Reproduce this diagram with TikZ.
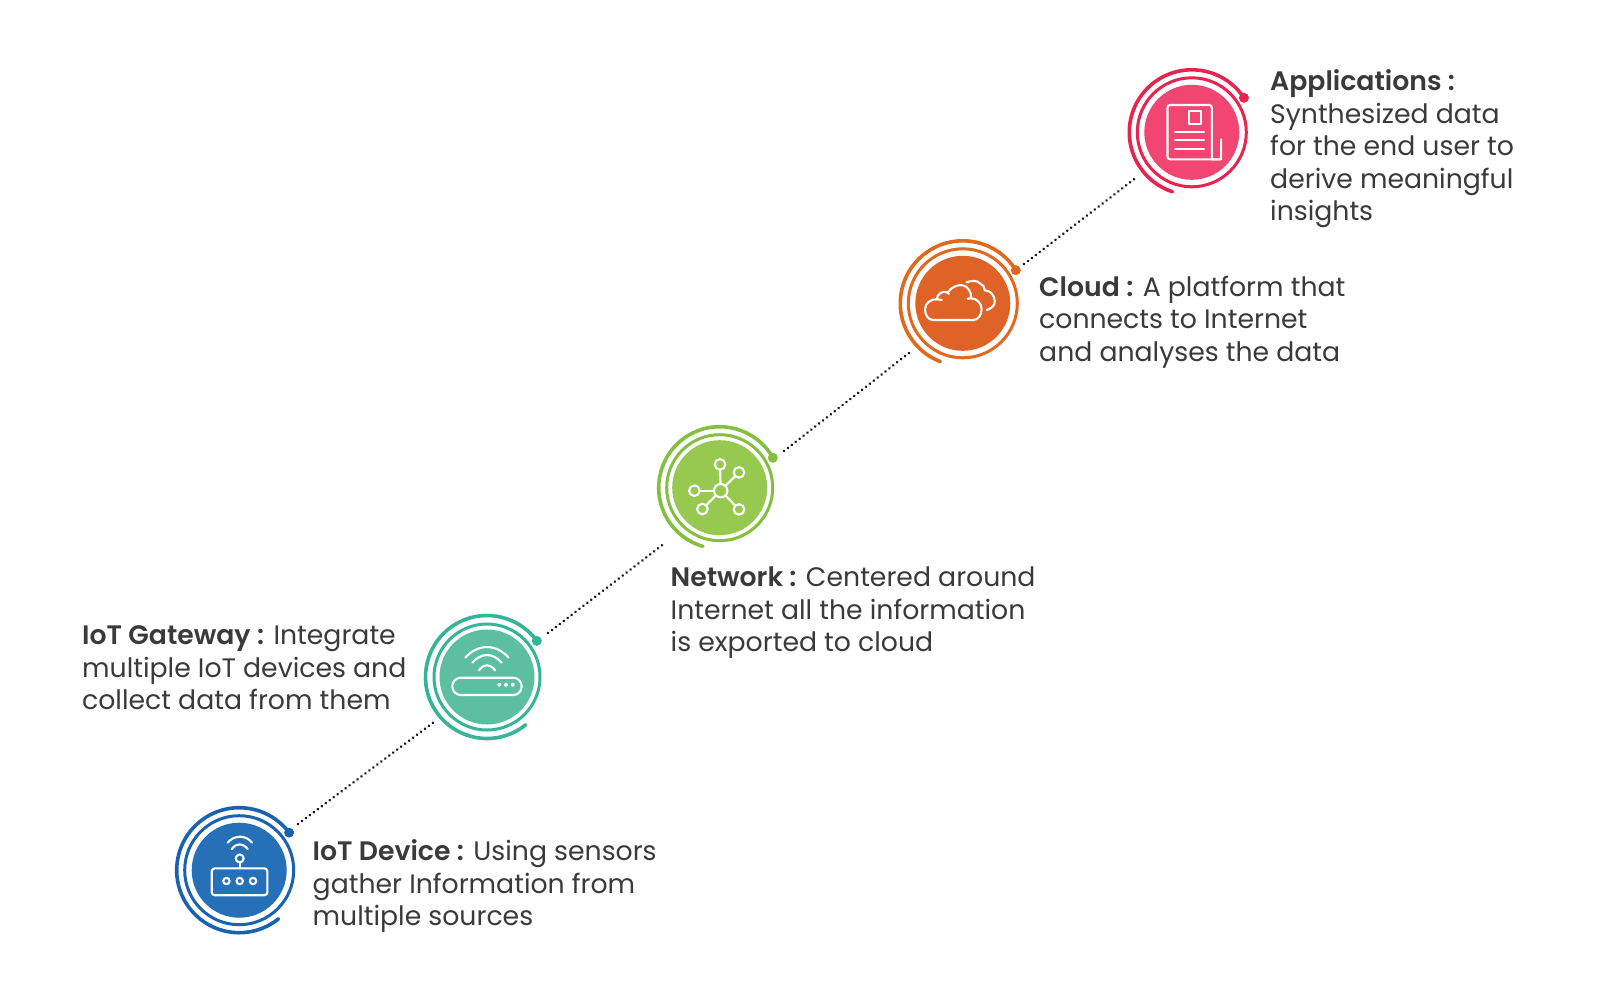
\documentclass[tikz,border=0pt]{standalone}
\usepackage{fontspec}
\setmainfont{Poppins}[BoldFont={Poppins SemiBold}]
\definecolor{txt}{HTML}{3A3A3A}
\definecolor{appD}{HTML}{F24672}\definecolor{appR}{HTML}{E8234F}
\definecolor{cloD}{HTML}{DF6326}\definecolor{cloR}{HTML}{E0681F}
\definecolor{netD}{HTML}{97C950}\definecolor{netR}{HTML}{85BF40}
\definecolor{gwD}{HTML}{5CC0A0}\definecolor{gwR}{HTML}{35B598}
\definecolor{devD}{HTML}{2670B8}\definecolor{devR}{HTML}{1A62B0}
\tikzset{
  lbl/.style={anchor=north west,inner sep=0pt,align=left,text=txt,font=\fontsize{26.7}{32.5}\selectfont},
  dotline/.style={line width=2.9pt,black!90,line cap=round,dash pattern=on 0.01pt off 4.95pt},
  ico/.style={white,line width=2.1pt,line cap=round,line join=round,fill=none},
}
\newcommand{\badge}[9]{% name,x,y,disc,ring,startangle,endangle,ring r,outer r
  \node[circle,fill=#4,minimum size=95pt,inner sep=0pt] (#1) at (#2,#3) {};
  \draw[#5,line width=3pt] (#1.center) circle[radius=#8];
  \draw[#5,line width=3.6pt,line cap=round] ($(#1.center)+(-#6:#9)$) arc[start angle=-#6,end angle=-#7,radius=#9];
  \fill[#5] ($(#1.center)+(-#6:#9)$) circle[radius=5];
}
\usetikzlibrary{calc}
\begin{document}
\begin{tikzpicture}[x=1pt,y=-1pt]
\useasboundingbox[fill=white] (0,0) rectangle (1600,991);
\badge{dev}{239.2}{870.2}{devD}{devR}{37}{309}{54.5}{62.5}
\badge{gw}{487}{677}{gwD}{gwR}{36}{309}{53}{61.5}
\badge{net}{719.7}{487.7}{netD}{netR}{29.4}{254}{53}{61}
\badge{clo}{962.8}{303.3}{cloD}{cloR}{32}{249}{54.5}{62.5}
\badge{app}{1191.8}{132.3}{appD}{appR}{33.5}{252}{54.5}{62.5}
% connectors
\coordinate (a1) at (298,824);\coordinate (a2) at (434,722);
\coordinate (b1) at (548,633);\coordinate (b2) at (665,543);
\coordinate (c1) at (784,451);\coordinate (c2) at (909,353);
\coordinate (d1) at (1024,264);\coordinate (d2) at (1137,177);
\draw[dotline] (a1) -- (a2);
\draw[dotline] (b1) -- (b2);
\draw[dotline] (c1) -- (c2);
\draw[dotline] (d1) -- (d2);
% icon: device
\begin{scope}[shift={(dev.center)},ico]
  \draw[rounded corners=3pt] (-27.5,-1.8) rectangle (28.2,25);
  \foreach \x in {-12.8,0.5,13.8} \draw (\x,10.8) circle[radius=3.2];
  \draw (0.5,-11.8) circle[radius=4];
  \draw (0.5,-7.8) -- (0.5,-1.8);
  \draw (-7.5,-21) .. controls (-3,-27.5) and (4,-27.5) .. (8.5,-21);
  \draw (-11.5,-27.5) .. controls (-5,-35.5) and (6.5,-35.5) .. (13,-27.5);
\end{scope}
% icon: gateway
\begin{scope}[shift={(gw.center)},ico]
  \draw[rounded corners=8.5pt] (-34.7,0.7) rectangle (34.7,18);
  \foreach \x in {12.3,19,25.7} \fill (\x,7.7) circle[radius=2];
  \draw (-8,-6.7) .. controls (-3,-13.5) and (3,-13.5) .. (8,-6.7);
  \draw (-14.7,-14.3) .. controls (-6,-24.5) and (6,-24.5) .. (14.7,-14.3);
  \draw (-21.7,-19.3) .. controls (-9,-33.5) and (9,-33.5) .. (21.7,-19.3);
\end{scope}
% icon: network
\begin{scope}[shift={(net.center)},ico]
  \coordinate (h) at (1,3);
  \draw (h) circle[radius=6.7];
  \foreach \x/\y in {0.3/-23.3,19.3/-15.3,-25.3/3,-17.3/21.3,19.3/21.7}{
    \draw (\x,\y) circle[radius=5.3];
    \draw ($(h)!6.7pt!(\x,\y)$) -- ($(\x,\y)!5.3pt!(h)$);
  }
\end{scope}
% icon: cloud
\begin{scope}[shift={(clo.center)},ico]
  \draw (-29.5,16.7) .. controls (-34.5,16.7) and (-37.8,12) .. (-37.8,6)
     .. controls (-37.8,0) and (-32,-4.5) .. (-26,-4)
     .. controls (-26,-9) and (-20,-13.5) .. (-15,-10.7)
     .. controls (-12,-16) and (-5,-19) .. (0,-18)
     .. controls (5,-17) and (9,-11) .. (8.2,-5)
     .. controls (14,-5) and (18.8,0) .. (18.8,6)
     .. controls (18.8,12) and (15,16.7) .. (10.5,16.7) -- cycle;
  \draw (-26,-4) -- (-21,-3.3);
  \draw (-15,-10.7) -- (-14,-9.3);
  \draw (5,-4.5) -- (8.2,-5);
  \draw (3.8,-21) .. controls (8,-23) and (15,-23) .. (17,-20)
     .. controls (20,-19) and (22,-16) .. (22,-13)
     .. controls (28,-13) and (32,-7) .. (32,-2)
     .. controls (32,2) and (29,5) .. (24,6.7);
\end{scope}
% icon: applications
\begin{scope}[shift={(app.center)},ico]
  \draw[rounded corners=2.5pt] (29.3,27) -- (-24.3,27) -- (-24.3,-27.3) -- (20,-27.3) -- (20,27);
  \draw[rounded corners=2pt] (20,27) -- (29.3,27) -- (29.3,7);
  \draw (-2.7,-21.3) rectangle (9.3,-8.3);
  \foreach \y in {-0.7,8,17} \draw (-16.7,\y) -- (12.3,\y);
\end{scope}
% labels
\node[lbl] (tapp) at (1270,69.5) {\textbf{Applications :}\\Synthesized data\\for the end user to\\derive meaningful\\insights};
\node[lbl] (tclo) at (1039,275.5) {\textbf{Cloud :} A platform that\\connects to Internet\\and analyses the data};
\node[lbl] (tnet) at (670.5,567) {\textbf{Network :} Centered around\\Internet all the information\\is exported to cloud};
\node[lbl] (tgw) at (82,625.5) {\textbf{IoT Gateway :} Integrate\\multiple IoT devices and\\collect data from them};
\node[lbl] (tdev) at (312.5,839.5) {\textbf{IoT Device :} Using sensors\\gather Information from\\multiple sources};
\end{tikzpicture}
\end{document}
